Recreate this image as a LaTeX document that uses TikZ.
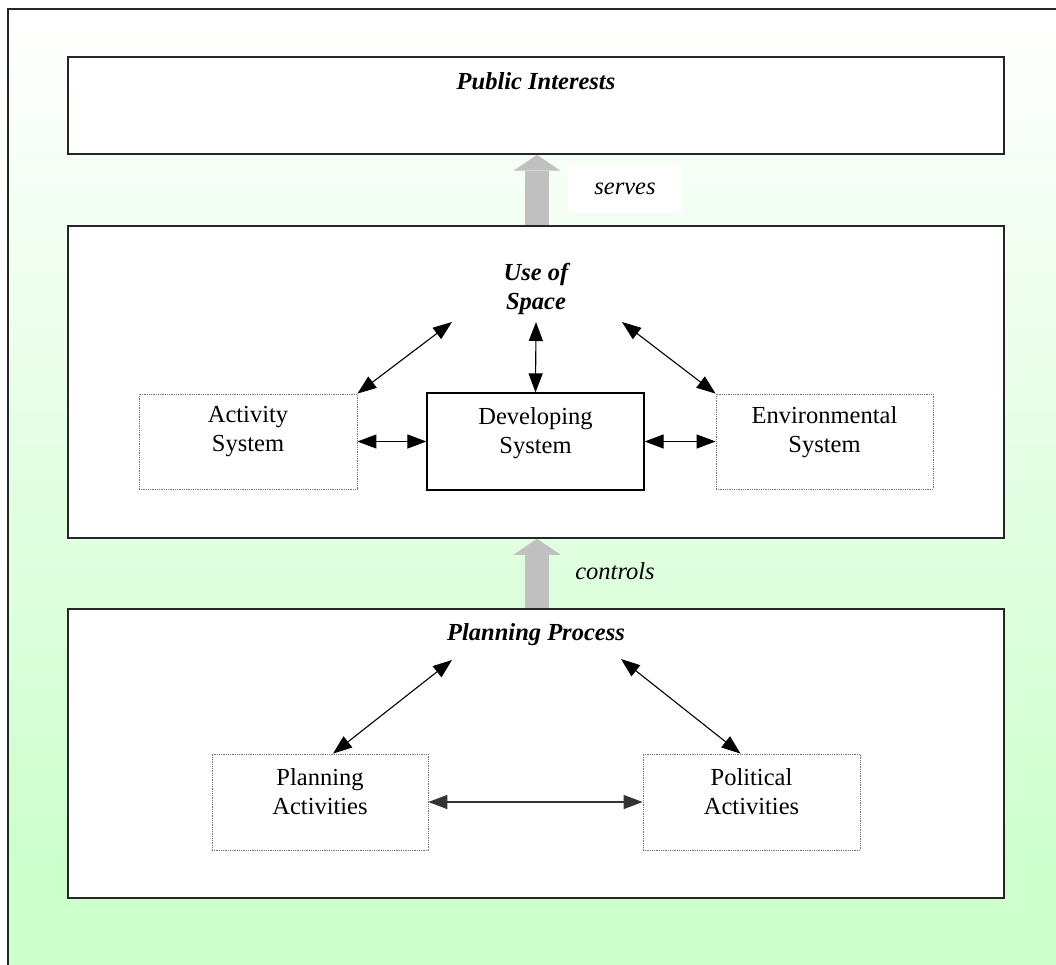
\documentclass[tikz,border=0pt]{standalone}
\usepackage{fontspec}
\setmainfont{Liberation Serif}
\usetikzlibrary{arrows.meta,calc}
\definecolor{bggreen}{HTML}{CCFFCC}
\definecolor{arrowgray}{HTML}{C0C0C0}
\begin{document}
\begin{tikzpicture}[x=1pt,y=-1pt,
  bigbox/.style={draw=black!85, line width=1.5pt, fill=white, minimum width=936pt, inner sep=0pt},
  subbox/.style={draw=black!55, densely dotted, line width=0.8pt, fill=white, inner sep=0pt},
  solidbox/.style={draw=black, line width=1.2pt, fill=white, inner sep=0pt},
  lbl/.style={font=\fontsize{24.5}{29}\selectfont, align=center, inner sep=0pt},
  title/.style={lbl, font=\fontsize{24.5}{29}\selectfont\bfseries\itshape},
  itlbl/.style={lbl, font=\fontsize{24.5}{29}\selectfont\itshape},
  biarrow/.style={line width=1.1pt, {Triangle[length=19pt,width=14pt]}-{Triangle[length=19pt,width=14pt]}},
  flow/.style={draw=arrowgray, line width=24pt, -{Triangle[length=16pt,width=47pt,line width=0pt]}}]
\useasboundingbox (0,0) rectangle (1056,965);
% background
\shade[top color=white, bottom color=bggreen] (8,9) rectangle (1056,880);
\fill[bggreen] (8,880) rectangle (1056,965);
\draw[line width=1.2pt, black!85] (8,965) -- (8,9) -- (1056,9);
% big boxes
\node[bigbox, minimum height=97pt] (pub) at (536,105.5) {};
\node[bigbox, minimum height=312pt] (usebox) at (536,382) {};
\node[bigbox, minimum height=289pt] (planbox) at (536,753.5) {};
\node[title] (pubt) at (536,81) {Public Interests};
\node[title] (uset) at (536,289) {Use of\\Space};
\node[title] (plant) at (536,635) {Planning Process};
% grey flow arrows
\draw[flow] ([xshift=1pt]usebox.north) -- ([xshift=1pt]pub.south);
\draw[flow] ([xshift=1pt]planbox.north) -- ([xshift=1pt]usebox.south);
\node[itlbl, fill=white, minimum width=114pt, minimum height=49pt] (serves) at (625,189) {serves};
\node[itlbl] (controls) at (615,571) {controls};
% inner boxes
\node[subbox, minimum width=218pt, minimum height=95pt] (act) at (248,441.5) {};
\node[solidbox, minimum width=217pt, minimum height=97pt] (dev) at (535.5,441.5) {};
\node[subbox, minimum width=217pt, minimum height=95pt] (env) at (824.5,441.5) {};
\node[subbox, minimum width=216pt, minimum height=96pt] (pa) at (320,802) {};
\node[subbox, minimum width=217pt, minimum height=96pt] (pol) at (751.5,802) {};
\node[lbl] (actt) at (248,432) {Activity\\System};
\node[lbl] (devt) at (535.5,433) {Developing\\System};
\node[lbl] (envt) at (824.5,432) {Environmental\\System};
\node[lbl] (pat) at (320,792) {Planning\\Activities};
\node[lbl] (polt) at (751.5,792) {Political\\Activities};
% connectors
\coordinate (uL) at (452,322);
\coordinate (uM) at (536,322);
\coordinate (uR) at (622,322);
\coordinate (pL) at (452,660);
\coordinate (pR) at (621,659);
\draw[biarrow] (uL) -- (act.north east);
\draw[biarrow] (uM) -- (dev.north);
\draw[biarrow] (uR) -- (env.north west);
\draw[biarrow] (act.east) -- (dev.west);
\draw[biarrow] (dev.east) -- (env.west);
\draw[biarrow] (pL) -- ([xshift=13pt]pa.north);
\draw[biarrow] (pR) -- ([xshift=-11pt]pol.north);
\draw[biarrow, line width=1.4pt, black!80] (pa.east) -- (pol.west);
\end{tikzpicture}
\end{document}
